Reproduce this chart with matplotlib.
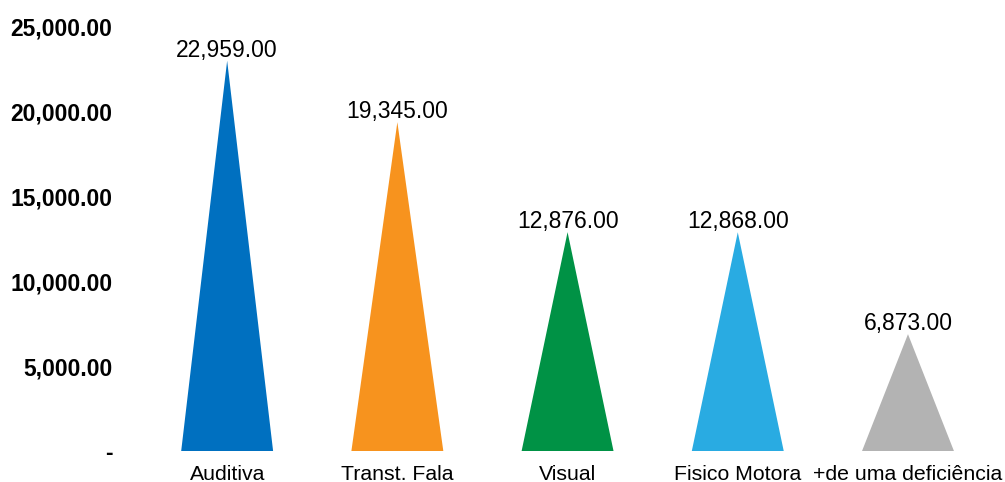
import matplotlib
matplotlib.use("Agg")
from matplotlib import pyplot as plt
from matplotlib.ticker import FuncFormatter

# Deficiency categories and counts
categories = ["Auditiva", "Transt. Fala", "Visual", "Fisico Motora", "+de uma deficiência"]
values = [22959.00, 19345.00, 12876.00, 12868.00, 6873.00]
colors = ["#0070C0", "#F7931E", "#009245", "#29ABE2", "#B3B3B3"]
y_ticks = [0, 5000, 10000, 15000, 20000, 25000]

plt.rcParams['font.family'] = ['Liberation Sans', 'DejaVu Sans']

fig = plt.figure(figsize=(10.05, 4.82), dpi=100)
ax = fig.add_axes([0.1244, 0.0643, 0.8756, 0.8817])

half_width = 0.27
for i, (val, col) in enumerate(zip(values, colors)):
    # pyramid-shaped bar: flat base on zero, tip at the value
    ax.fill([i - half_width, i, i + half_width], [0, val, 0], color=col, linewidth=0)
    ax.annotate(f"{val:,.2f}", xy=(i, val), xytext=(0, 3), textcoords='offset points',
                ha='center', va='baseline', fontsize=16.5)

ax.set_xlim(-0.6, 4.57)
ax.set_ylim(0, 25000)
ax.set_xticks(range(len(categories)))
ax.set_xticklabels(categories, fontsize=15.3)
ax.set_yticks(y_ticks)
ax.yaxis.set_major_formatter(FuncFormatter(lambda v, _: "-" if v == 0 else f"{v:,.2f}"))
for lbl in ax.get_yticklabels():
    lbl.set_fontweight('bold')
    lbl.set_fontsize(16.5)

ax.tick_params(axis='x', length=0, pad=10)
ax.tick_params(axis='y', length=0, pad=9)
for spine in ax.spines.values():
    spine.set_visible(False)

fig.savefig("out.png", dpi=100)
